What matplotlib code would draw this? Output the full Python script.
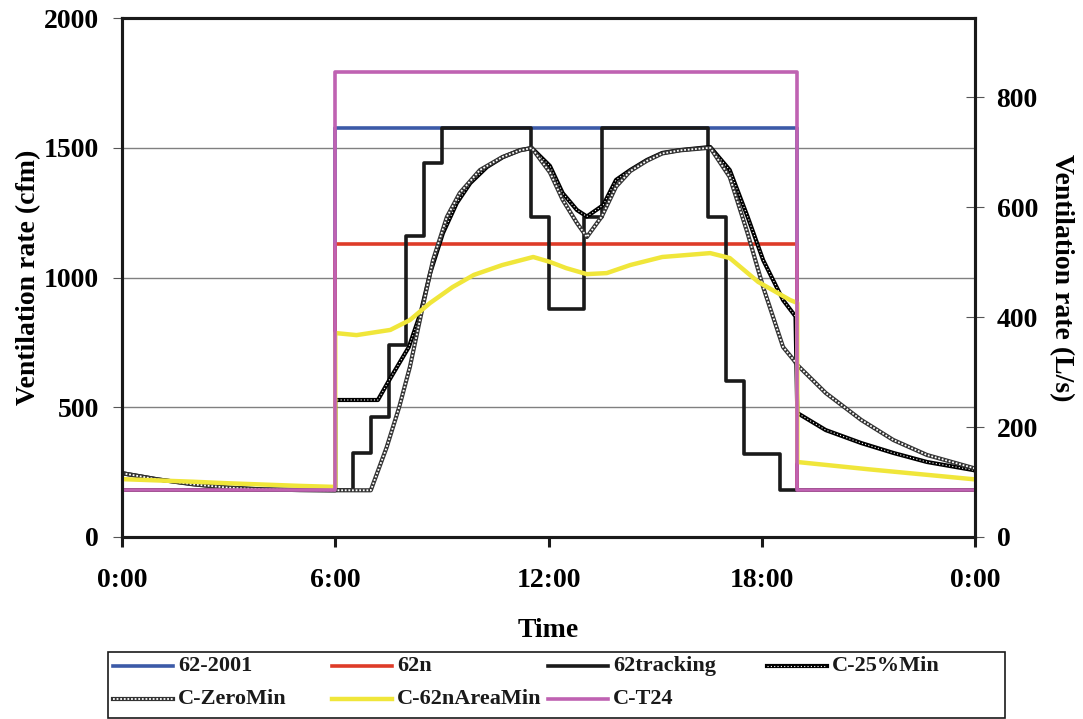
import matplotlib
matplotlib.use("Agg")
import matplotlib.pyplot as plt
from matplotlib.lines import Line2D
from matplotlib.patches import Rectangle

# ---------------- data (hours of day, cfm) ----------------
step_hours = [0, 6, 19, 24]
v_62_2001 = [180, 1576, 180, 180]
v_62n = [180, 1129, 180, 180]
v_t24 = [180, 1792, 180, 180]

track_hours = [0, 6.5, 7.0, 7.5, 8.0, 8.5, 9.0, 11.5, 12.0, 13.0, 13.5, 16.5, 17.0, 17.5, 18.5, 24]
track_vals = [180, 324, 464, 740, 1160, 1441, 1576, 1233, 878, 1233, 1576, 1233, 600, 320, 180, 180]

c25_hours = [0, 1, 2, 3, 4, 5, 6, 6, 7.2, 7.5, 8.07, 8.4, 8.67, 9.03, 9.42, 9.8, 10.27, 10.72,
             11.2, 11.53, 12.04, 12.4, 12.8, 13.08, 13.54, 13.9, 14.3, 14.77, 15.2, 15.7, 16.55,
             17.1, 17.6, 18.04, 18.6, 18.95, 19.0, 19.8, 20.8, 21.7, 22.65, 23.95, 24]
c25_vals = [246, 222, 204, 190, 183, 181, 180, 528, 528, 600, 732, 863, 1017, 1171, 1287, 1364, 1426, 1464,
            1491, 1499, 1430, 1325, 1260, 1235, 1279, 1376, 1414, 1453, 1480, 1491, 1503,
            1414, 1235, 1067, 913, 850, 478, 412, 362, 324, 289, 258, 256]

c0_hours = [0, 1, 2, 3, 4, 5, 6, 7.0, 7.45, 7.8, 8.1, 8.4, 8.75, 9.14, 9.5, 10.07, 10.7, 11.2, 11.53,
            12.04, 12.4, 12.8, 13.08, 13.5, 13.9, 14.3, 14.77, 15.2, 15.7, 16.55, 17.1, 17.6, 18.04,
            18.6, 18.9, 19.0, 19.8, 20.8, 21.7, 22.65, 23.95, 24]
c0_vals = [246, 222, 203, 190, 183, 181, 180, 180, 347, 501, 655, 848, 1067, 1233, 1325, 1414, 1464, 1490, 1499,
           1405, 1299, 1210, 1156, 1235, 1350, 1410, 1450, 1478, 1490, 1500, 1387, 1171, 963,
           732, 682, 663, 555, 451, 374, 316, 266, 264]

area_hours = [0, 1, 2, 3, 4, 5, 6, 6, 6.6, 7.55, 8.1, 8.67, 9.3, 9.9, 10.7, 11.57, 12.04, 12.5, 13.08,
              13.64, 14.3, 15.2, 16.55, 17.1, 17.9, 18.8, 19.0, 19.0, 20, 21, 22, 23, 24]
area_vals = [223, 218, 213, 207, 202, 197, 193, 786, 778, 798, 836, 902, 963, 1010, 1048, 1079, 1060, 1036, 1013,
             1017, 1048, 1079, 1094, 1075, 983, 913, 902, 289, 275, 261, 248, 235, 222]

series_labels = ["62-2001", "62n", "62tracking", "C-25%Min", "C-ZeroMin", "C-62nAreaMin", "C-T24"]
x_ticks = [0, 6, 12, 18, 24]
x_tick_labels = ["0:00", "6:00", "12:00", "18:00", "0:00"]
y_ticks = [0, 500, 1000, 1500, 2000]
y2_ticks = [0, 200, 400, 600, 800]
CFM_PER_LS = 2.11888

# ---------------- style ----------------
plt.rcParams['font.family'] = ['Liberation Serif', 'DejaVu Serif']
plt.rcParams['font.weight'] = 'bold'

BLUE = '#3C5AA8'
RED = '#DE3B28'
BLACK = '#1a1a1a'
YELLOW = '#F0E63A'
MAGENTA = '#BF62B2'

W, H = 1083, 719
fig = plt.figure(figsize=(W / 100, H / 100), dpi=100)
ax = fig.add_axes([122 / W, 1 - 537 / H, (975 - 122) / W, (537 - 18) / H])

ax.plot(step_hours, v_62_2001, drawstyle='steps-post', color=BLUE, lw=2.6, zorder=3)
ax.plot(step_hours, v_62n, drawstyle='steps-post', color=RED, lw=2.6, zorder=3)
ax.plot(track_hours, track_vals, drawstyle='steps-post', color=BLACK, lw=2.6, zorder=4)
# C-25%Min : black band with small white dashes
ax.plot(c25_hours, c25_vals, color='black', lw=3.0, zorder=5)
ax.plot(c25_hours, c25_vals, color='white', lw=0.8, ls=(0, (1, 2)), zorder=5.1)
# C-ZeroMin : chain of hollow circles
ax.plot(c0_hours, c0_vals, color='#333333', lw=3.0, zorder=5.2)
ax.plot(c0_hours, c0_vals, color='white', lw=1.3, ls=(0, (1, 1)), zorder=5.3)
ax.plot(area_hours, area_vals, color=YELLOW, lw=3.2, zorder=6)
ax.plot(step_hours, v_t24, drawstyle='steps-post', color=MAGENTA, lw=2.6, zorder=7)

ax.set_xlim(0, 24)
ax.set_ylim(0, 2000)
ax.set_xticks(x_ticks)
ax.set_xticklabels(x_tick_labels)
ax.set_yticks(y_ticks)
ax.yaxis.grid(True, color='#808080', lw=1.0, zorder=0)
ax.set_axisbelow(True)

for sp in ax.spines.values():
    sp.set_linewidth(2.2)
    sp.set_color('#1a1a1a')

ax.tick_params(axis='y', direction='out', length=6.5, width=0.8, color='#555555', pad=10, labelsize=20)
ax.tick_params(axis='x', direction='out', length=7, width=2.2, color='#1a1a1a', pad=15, labelsize=20)
ax.set_ylabel("Ventilation rate (cfm)", fontsize=20, fontweight='bold', labelpad=2)
ax.set_xlabel("Time", fontsize=20, fontweight='bold', labelpad=18)

ax2 = ax.twinx()
ax2.set_ylim(0, 2000 / CFM_PER_LS)
ax2.set_yticks(y2_ticks)
for sp in ax2.spines.values():
    sp.set_linewidth(2.2)
    sp.set_color('#1a1a1a')
ax2.tick_params(axis='y', direction='inout', length=13, width=0.8, color='#555555', pad=9, labelsize=20)
ax2.set_ylabel("Ventilation rate (L/s)", fontsize=20, fontweight='bold', rotation=270, va='bottom', labelpad=8)

# ---------------- legend (manual, equal-width columns like the original) ----------------
def fx(x):
    return x / W

def fy(y):
    return 1 - y / H

fig.add_artist(Rectangle((fx(108), fy(718)), (1005 - 108) / W, (718 - 652) / H,
                         transform=fig.transFigure, fill=False, lw=1.2, edgecolor='#1a1a1a'))

col_x = [113, 332, 548, 767]
row_y = [666, 699]
positions = [(0, 0), (1, 0), (2, 0), (3, 0), (0, 1), (1, 1), (2, 1)]
handle_len = 60

def draw_handle(idx, x0, y):
    xs = [fx(x0), fx(x0 + handle_len)]
    ys = [fy(y), fy(y)]
    kw = dict(transform=fig.transFigure)
    if idx == 0:
        fig.add_artist(Line2D(xs, ys, color=BLUE, lw=2.6, **kw))
    elif idx == 1:
        fig.add_artist(Line2D(xs, ys, color=RED, lw=2.6, **kw))
    elif idx == 2:
        fig.add_artist(Line2D(xs, ys, color=BLACK, lw=2.6, **kw))
    elif idx == 3:
        fig.add_artist(Line2D(xs, ys, color='black', lw=3.0, **kw))
        fig.add_artist(Line2D(xs, ys, color='white', lw=0.8, ls=(0, (1, 2)), **kw))
    elif idx == 4:
        fig.add_artist(Line2D(xs, ys, color='#333333', lw=3.0, **kw))
        fig.add_artist(Line2D(xs, ys, color='white', lw=1.3, ls=(0, (1, 1)), **kw))
    elif idx == 5:
        fig.add_artist(Line2D(xs, ys, color=YELLOW, lw=3.2, **kw))
    else:
        fig.add_artist(Line2D(xs, ys, color=MAGENTA, lw=2.6, **kw))

for i, (label, (c, r)) in enumerate(zip(series_labels, positions)):
    x0 = col_x[c]
    y = row_y[r]
    draw_handle(i, x0, y)
    fig.text(fx(x0 + handle_len + 5), fy(y), label, fontsize=16, fontweight='bold',
             va='center', ha='left', color='#1a1a1a')

fig.savefig("out.png", dpi=100)
